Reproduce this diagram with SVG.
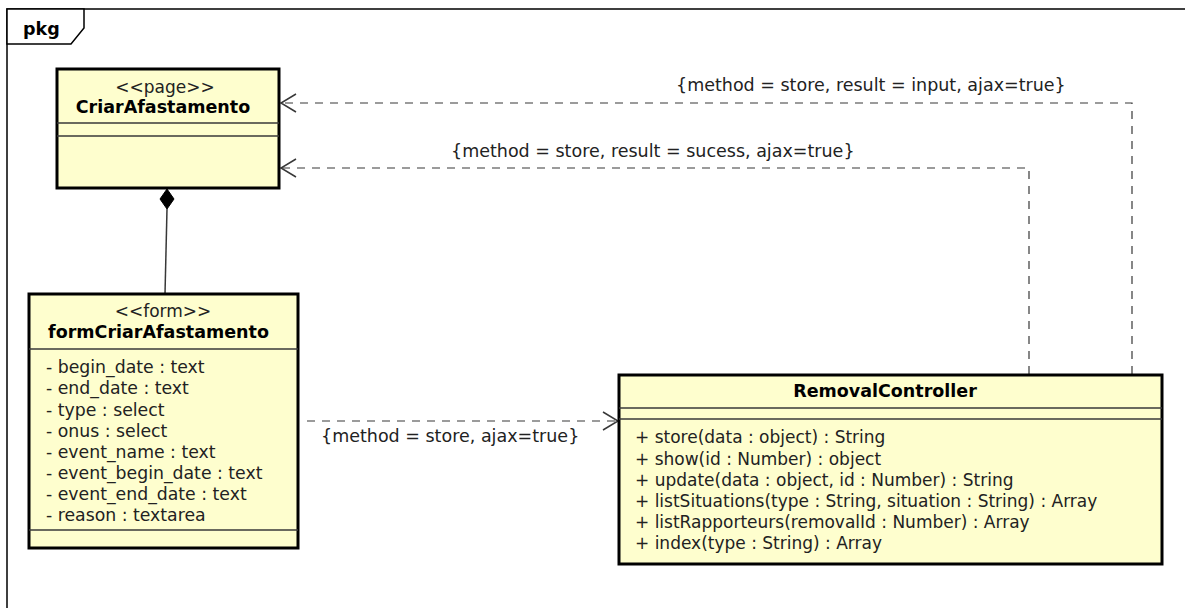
<svg xmlns="http://www.w3.org/2000/svg" width="1185" height="608" viewBox="0 0 1185 608">
<defs>
<style>
.box{fill:#FEFECE;stroke:#000;stroke-width:3}
.sep{stroke:#383838;stroke-width:1.5}
.t{font-family:"DejaVu Sans",sans-serif;font-size:17px;fill:#222}
.a{font-size:17.3px}
.l{font-size:17.5px}
.b{font-family:"DejaVu Sans",sans-serif;font-size:17.5px;font-weight:bold;fill:#000}
.c{text-anchor:middle}
.dash{fill:none;stroke:#383838;stroke-width:1.2;stroke-dasharray:8,7}
.head{fill:none;stroke:#383838;stroke-width:1.5}
</style>
</defs>
<rect width="1185" height="608" fill="#fff"/>
<g id="frame">
<rect x="7" y="9" width="1200" height="620" fill="none" stroke="#000" stroke-width="1.5"/>
<polygon points="7,9 84,9 84,28 71,44 7,44" fill="#fff" stroke="#000" stroke-width="1.5"/>
<text class="b" x="23" y="35">pkg</text>
</g>
<g id="connectors">
<polyline class="dash" points="1132,374 1132,103 281,103"/>
<polyline class="head" points="296,94 281,103 296,112"/>
<text class="t l" x="676" y="91">{method = store, result = input, ajax=true}</text>
<polyline class="dash" points="1029,374 1029,168 281,168"/>
<polyline class="head" points="296,159 281,168 296,177"/>
<text class="t l" x="451" y="157">{method = store, result = sucess, ajax=true}</text>
<line class="dash" x1="307" y1="421" x2="617" y2="421"/>
<polyline class="head" points="603,412 618,421 603,430"/>
<text class="t l" x="321" y="442">{method = store, ajax=true}</text>
<line x1="167" y1="209" x2="165" y2="294" stroke="#383838" stroke-width="1.5"/>
<polygon points="167,189 174,199 167,209 160,199" fill="#000" stroke="#000" stroke-width="1"/>
</g>
<g id="CriarAfastamento">
<rect class="box" x="57" y="69" width="222" height="119"/>
<text class="t c" x="165" y="93">&lt;&lt;page&gt;&gt;</text>
<text class="b c" x="163" y="113">CriarAfastamento</text>
<line class="sep" x1="57" y1="123" x2="279" y2="123"/>
<line class="sep" x1="57" y1="136" x2="279" y2="136"/>
</g>
<g id="formCriarAfastamento">
<rect class="box" x="29" y="294" width="269" height="254"/>
<text class="t c" x="163" y="317">&lt;&lt;form&gt;&gt;</text>
<text class="b c" x="158.5" y="338">formCriarAfastamento</text>
<line class="sep" x1="29" y1="349" x2="298" y2="349"/>
<text class="t a" x="46" y="373">- begin_date : text</text>
<text class="t a" x="46" y="394">- end_date : text</text>
<text class="t a" x="46" y="415.5">- type : select</text>
<text class="t a" x="46" y="437">- onus : select</text>
<text class="t a" x="46" y="458">- event_name : text</text>
<text class="t a" x="46" y="479">- event_begin_date : text</text>
<text class="t a" x="46" y="500">- event_end_date : text</text>
<text class="t a" x="46" y="521">- reason : textarea</text>
<line class="sep" x1="29" y1="530" x2="298" y2="530"/>
</g>
<g id="RemovalController">
<rect class="box" x="619" y="375" width="543" height="189"/>
<text class="b c" x="885" y="397">RemovalController</text>
<line class="sep" x1="619" y1="408" x2="1162" y2="408"/>
<line class="sep" x1="619" y1="419" x2="1162" y2="419"/>
<text class="t" x="635" y="443">+ store(data : object) : String</text>
<text class="t" x="635" y="465">+ show(id : Number) : object</text>
<text class="t" x="635" y="486">+ update(data : object, id : Number) : String</text>
<text class="t" x="635" y="507">+ listSituations(type : String, situation : String) : Array</text>
<text class="t" x="635" y="528">+ listRapporteurs(removalId : Number) : Array</text>
<text class="t" x="635" y="549">+ index(type : String) : Array</text>
</g>
</svg>
